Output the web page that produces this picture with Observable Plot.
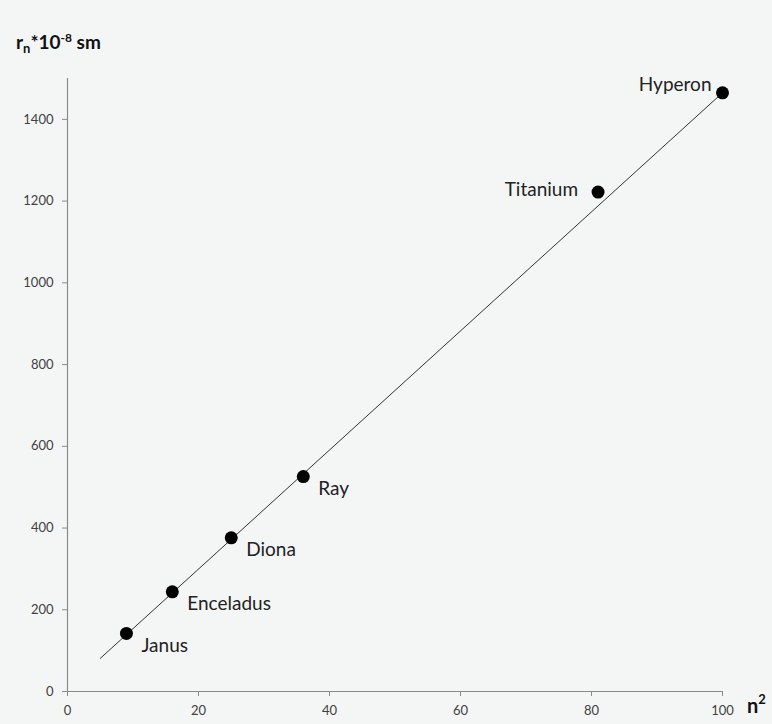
<!DOCTYPE html>
<html>
<head>
<meta charset="utf-8">
<script src="https://cdn.jsdelivr.net/npm/d3@7"></script>
<script src="https://cdn.jsdelivr.net/npm/@observablehq/plot@0.6"></script>
<style>
  html, body { margin: 0; padding: 0; background: #ffffff; }
  #chart { position: relative; width: 772px; height: 724px; }
  svg { display: block; }
</style>
</head>
<body>
<div id="chart"></div>
<script>
// Data
const moons = ["Janus", "Enceladus", "Diona", "Ray", "Titanium", "Hyperon"];
const nSquared = [9, 16, 25, 36, 81, 100];
const radius = [142, 244, 376, 526, 1222, 1465];
// Fitted line end points (n², r)
const fitX = [5, 100];
const fitY = [81, 1465];
const xTicks = [0, 20, 40, 60, 80, 100];
const yTicks = [0, 200, 400, 600, 800, 1000, 1200, 1400];

const points = moons.map((name, i) => ({name, x: nSquared[i], y: radius[i]}));
const fit = fitX.map((x, i) => ({x, y: fitY[i]}));

const font = "Lato, 'Open Sans', sans-serif";
const axisColor = "#8a8a8a";

const plot = Plot.plot({
  width: 772,
  height: 724,
  marginLeft: 67,
  marginRight: 50,
  marginTop: 78,
  marginBottom: 33,
  style: {background: "#f4f6f6", fontFamily: font},
  x: {domain: [0, 100]},
  y: {domain: [0, 1500]},
  marks: [
    Plot.ruleX([0], {y1: 0, y2: 1500, stroke: axisColor, strokeWidth: 1.2}),
    Plot.ruleY([0], {x1: 0, x2: 100, stroke: axisColor, strokeWidth: 1.2}),
    Plot.axisY(yTicks, {tickSize: 5, tickPadding: 9, tickFormat: "d", stroke: axisColor, fill: "#404040", fontSize: 13, label: null}),
    Plot.axisX(xTicks, {tickSize: 5, tickPadding: 9, tickFormat: "d", stroke: axisColor, fill: "#404040", fontSize: 13, label: null}),
    Plot.line(fit, {x: "x", y: "y", stroke: "#333", strokeWidth: 1}),
    Plot.dot(points, {x: "x", y: "y", r: 6.5, fill: "#000"}),
    Plot.text(points.filter(d => d.x < 50), {x: "x", y: "y", text: "name", textAnchor: "start", dx: 15, dy: 12, fontSize: 19, fill: "#222"}),
    Plot.text(points.filter(d => d.name === "Titanium"), {x: "x", y: "y", text: "name", textAnchor: "end", dx: -20, dy: -2, fontSize: 19, fill: "#222"}),
    Plot.text(points.filter(d => d.name === "Hyperon"), {x: "x", y: "y", text: "name", textAnchor: "end", dx: -11, dy: -8, fontSize: 19, fill: "#222"})
  ]
});

document.getElementById("chart").appendChild(plot);

// Axis titles with sub/superscripts
const svg = d3.select(plot);
const t1 = svg.append("text")
  .attr("x", 16).attr("y", 49).attr("text-anchor", "start")
  .attr("font-family", font).attr("font-weight", "bold").attr("font-size", 19).attr("fill", "#111");
t1.append("tspan").text("r");
t1.append("tspan").attr("dy", 4).attr("font-size", 13).text("n");
t1.append("tspan").attr("dy", -4).text("*10");
t1.append("tspan").attr("dy", -7).attr("font-size", 12).text("-8");
t1.append("tspan").attr("dy", 7).text(" sm");

const t2 = svg.append("text")
  .attr("x", 747).attr("y", 713).attr("text-anchor", "start")
  .attr("font-family", font).attr("font-weight", "bold").attr("font-size", 20).attr("fill", "#111");
t2.append("tspan").text("n");
t2.append("tspan").attr("dy", -9).attr("font-size", 13).text("2");
</script>
</body>
</html>
